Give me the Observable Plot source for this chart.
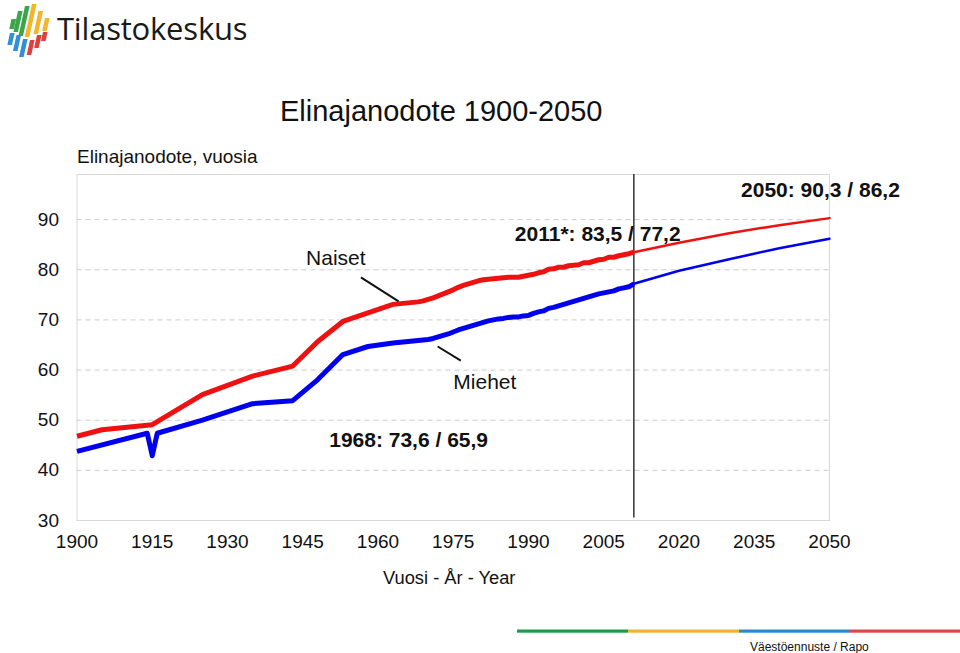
<!DOCTYPE html>
<html>
<head>
<meta charset="utf-8">
<script src="https://cdn.jsdelivr.net/npm/d3@7"></script>
<script src="https://cdn.jsdelivr.net/npm/@observablehq/plot@0.6"></script>
<style>
  html, body { margin: 0; padding: 0; background: #fff; }
  #page { position: relative; width: 960px; height: 653px; overflow: hidden; font-family: "Liberation Sans", Arial, sans-serif; color: #111; }
  .abs { position: absolute; white-space: nowrap; line-height: 1; }
  #chart { position: absolute; left: 0; top: 0; }
</style>
</head>
<body>
<div id="page">
  <div id="chart"></div>
  <svg class="abs" style="left:2px;top:1px" width="50" height="60" viewBox="0 0 50 60" id="logo"></svg>
  <div class="abs" style="left:57px;top:13px;font-family:'Open Sans',sans-serif;font-size:31px;color:#1a1a1a;letter-spacing:-0.2px">Tilastokeskus</div>
  <div class="abs" style="left:280px;top:97px;font-size:29px">Elinajanodote 1900-2050</div>
  <div class="abs" style="left:77px;top:147px;font-size:19px">Elinajanodote, vuosia</div>
  <div class="abs" style="left:383px;top:568.5px;font-size:18.3px">Vuosi - År - Year</div>
  <svg class="abs" style="left:0;top:0" width="960" height="653" id="footer"></svg>
  <div class="abs" style="left:750px;top:641px;font-size:12px">Väestöennuste / Rapo</div>
</div>
<script>
// ---- data ----
const womenYears = [1900,1905,1915,1925,1935,1943,1948,1953,1958,1963,1968,
  1969,1970,1971,1972,1973,1974,1975,1976,1977,1978,1979,1980,1981,1982,1983,1984,1985,1986,1987,1988,1989,1990,
  1991,1992,1993,1994,1995,1996,1997,1998,1999,2000,2001,2002,2003,2004,2005,2006,2007,2008,2009,2010,2011];
const womenValues = [46.8,48.1,49.1,55.1,58.8,60.8,65.7,69.7,71.4,73.1,73.6,
  73.8,74.1,74.4,74.8,75.2,75.6,76.0,76.5,76.9,77.2,77.5,77.8,78.0,78.1,78.2,78.3,78.4,78.5,78.5,78.5,78.7,78.9,
  79.1,79.4,79.6,80.1,80.2,80.5,80.5,80.8,80.9,81.0,81.4,81.4,81.7,82.0,82.1,82.5,82.5,82.8,83.0,83.2,83.5];

const menYears = [1900,1914,1915,1916,1925,1935,1943,1948,1953,1958,1963,1968,
  1969,1970,1971,1972,1973,1974,1975,1976,1977,1978,1979,1980,1981,1982,1983,1984,1985,1986,1987,1988,1989,1990,
  1991,1992,1993,1994,1995,1996,1997,1998,1999,2000,2001,2002,2003,2004,2005,2006,2007,2008,2009,2010,2011];
const menValues = [43.8,47.4,42.9,47.4,50.0,53.3,53.9,58.1,63.1,64.7,65.4,65.9,
  66.0,66.1,66.3,66.6,66.9,67.2,67.6,68.0,68.3,68.6,68.9,69.2,69.5,69.8,70.0,70.2,70.3,70.5,70.6,70.6,70.8,70.9,
  71.3,71.6,71.8,72.3,72.5,72.8,73.1,73.4,73.7,74.0,74.3,74.6,74.9,75.2,75.4,75.6,75.8,76.2,76.4,76.6,77.2];

const projYears = [2011,2020,2030,2040,2050];
const womenProj = [83.5,85.4,87.3,88.9,90.3];
const menProj   = [77.2,79.8,82.1,84.3,86.2];

const lastObservedYear = 2011;
const xTicks = [1900,1915,1930,1945,1960,1975,1990,2005,2020,2035,2050];
const yTicks = [30,40,50,60,70,80,90];
const gridTicks = [40,50,60,70,80,90];

const seriesLabels = ["Naiset","Miehet"];
const labelYears  = [1951.6,1981.3];
const labelValues = [82.3,57.5];
const pointerFrom = [[1956.6,78.5],[1971.9,64.7]];
const pointerTo   = [[1964.1,73.7],[1976.5,61.9]];

const noteTexts  = ["1968: 73,6 / 65,9","2011*: 83,5 / 77,2","2050: 90,3 / 86,2"];
const noteYears  = [1966.1,2003.8,2048.2];
const noteValues = [46.0,87.1,95.9];

const RED = "#ee1111", BLUE = "#0000ee";

// ---- tables ----
const women = womenYears.map((year,i)=>({year, value: womenValues[i]}));
const men = menYears.map((year,i)=>({year, value: menValues[i]}));
const womenP = projYears.map((year,i)=>({year, value: womenProj[i]}));
const menP = projYears.map((year,i)=>({year, value: menProj[i]}));
const labels = seriesLabels.map((t,i)=>({t, x: labelYears[i], y: labelValues[i]}));
const pointers = pointerFrom.map((p,i)=>({x1:p[0], y1:p[1], x2:pointerTo[i][0], y2:pointerTo[i][1]}));
const notes = noteTexts.map((t,i)=>({t, x: noteYears[i], y: noteValues[i]}));

const chart = Plot.plot({
  width: 960,
  height: 653,
  marginLeft: 76.5,
  marginRight: 131,
  marginTop: 174,
  marginBottom: 133,
  style: { fontFamily: "'Liberation Sans', Arial, sans-serif", fontSize: "19px", color: "#111", background: "transparent" },
  x: { domain: [1900, 2050] },
  y: { domain: [30, 99] },
  marks: [
    Plot.ruleY(gridTicks, { stroke: "#cccccc", strokeDasharray: "5,4" }),
    Plot.frame({ stroke: "#d8d8d8" }),
    Plot.axisX({ ticks: xTicks, tickFormat: d => String(d), tickSize: 0, tickPadding: 14, label: null }),
    Plot.axisY({ ticks: yTicks, tickSize: 0, tickPadding: 18, label: null }),
    Plot.ruleX([lastObservedYear], { y1: 30.5, y2: 99, stroke: "#333", strokeWidth: 1.5 }),
    Plot.line(womenP, { x: "year", y: "value", stroke: RED, strokeWidth: 2.5 }),
    Plot.line(menP, { x: "year", y: "value", stroke: BLUE, strokeWidth: 2.5 }),
    Plot.line(women, { x: "year", y: "value", stroke: RED, strokeWidth: 5, strokeLinejoin: "round", strokeLinecap: "butt" }),
    Plot.line(men, { x: "year", y: "value", stroke: BLUE, strokeWidth: 5, strokeLinejoin: "round", strokeLinecap: "butt" }),
    Plot.link(pointers, { x1: "x1", y1: "y1", x2: "x2", y2: "y2", stroke: "#111", strokeWidth: 2 }),
    Plot.text(labels, { x: "x", y: "y", text: "t", fontSize: 21, fill: "#111" }),
    Plot.text(notes, { x: "x", y: "y", text: "t", fontSize: 21, fontWeight: "bold", fill: "#111" })
  ]
});
document.getElementById("chart").appendChild(chart);

// ---- logo (decoration) ----
const logoBars = [
  [9.5,18,28,"#3aa54a"],[16,10,31,"#3aa54a"],[23,5,35,"#3aa54a"],
  [30,3,36,"#f2b52b"],[36.5,10,33,"#f2b52b"],[43,17,30,"#f2b52b"],
  [8,32,44,"#2f8fd8"],[14.5,34,50,"#2f8fd8"],[21,38,56,"#2f8fd8"],
  [28,39,54,"#e0403d"],[35,34,47,"#e0403d"],[41,31,40,"#e0403d"]
];
const logo = d3.select("#logo");
logoBars.forEach(([x,t,b,c])=>{
  const s = 0.22, w = 4.6;
  const xb = x - (b - t) * s;
  logo.append("polygon").attr("points", `${x},${t} ${x+w},${t} ${xb+w},${b} ${xb},${b}`).attr("fill", c);
});

// ---- footer stripe (decoration) ----
const stripe = [[517,628,"#1f9a4d"],[628,739,"#f0b233"],[739,850,"#2a8ad0"],[850,960,"#e04848"]];
const footer = d3.select("#footer");
stripe.forEach(([a,b,c])=>footer.append("rect").attr("x",a).attr("y",629.5).attr("width",b-a).attr("height",3.2).attr("fill",c));
</script>
</body>
</html>
